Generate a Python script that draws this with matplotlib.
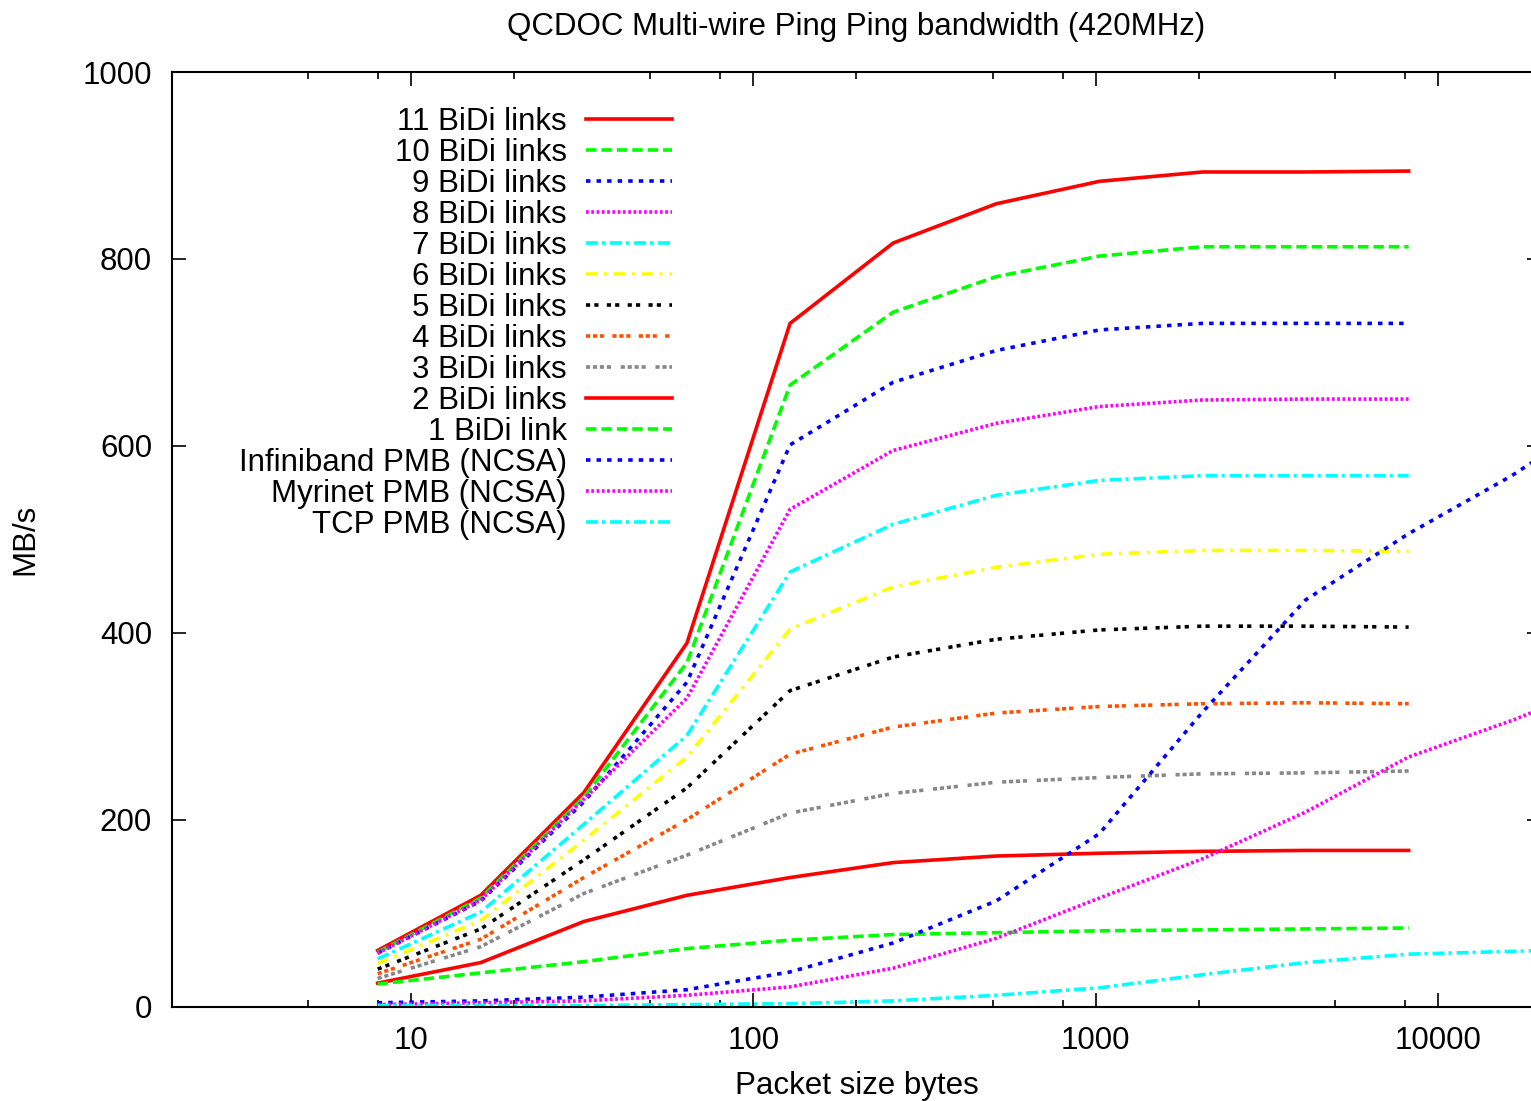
import matplotlib
matplotlib.use("Agg")
import matplotlib.pyplot as plt
from matplotlib.ticker import FixedLocator, NullFormatter

plt.rcParams['font.family'] = ['Liberation Sans', 'DejaVu Sans']
plt.rcParams['font.size'] = 22.5
plt.rcParams['lines.scale_dashes'] = False

# packet sizes (bytes)
sizes = [8, 16, 32, 64, 128, 256, 512, 1024, 2048, 4096, 8192]
sizes_ncsa = [8, 16, 32, 64, 128, 256, 512, 1024, 2048, 4096, 8192, 16384, 32768]

# QCDOC multi-wire bandwidth, MB/s
links11 = [60, 119, 229, 389, 731, 817, 859, 883, 893, 893, 894]
links10 = [58, 116, 224, 368, 665, 743, 781, 803, 813, 813, 813]
links9 = [57, 113, 219, 347, 601, 668, 702, 724, 731, 731, 731]
links8 = [57, 114, 222, 330, 532, 595, 624, 642, 649, 650, 650]
links7 = [51, 101, 195, 290, 465, 516, 547, 563, 568, 568, 568]
links6 = [46, 92, 178, 267, 404, 449, 470, 484, 488, 488, 487]
links5 = [40, 83, 157, 234, 338, 374, 393, 403, 407, 407, 406]
links4 = [35, 72, 138, 200, 270, 299, 314, 321, 324, 325, 324]
links3 = [30, 64, 121, 162, 207, 228, 240, 245, 249, 250, 252]
links2 = [25, 47, 91, 119, 138, 154, 161, 164, 166, 167, 167]
links1 = [24, 36, 48, 62, 71, 77, 79, 81, 82, 83, 84]

# NCSA PMB reference numbers
infiniband = [4, 6, 10, 18, 37, 68, 113, 185, 315, 435, 506, 568, 640]
myrinet = [2, 4, 6, 12, 21, 41, 73, 116, 158, 208, 267, 306, 350]
tcp = [1, 1, 1, 2, 3, 6, 12, 20, 34, 47, 56, 59, 62]

labels = ['11 BiDi links', '10 BiDi links', '9 BiDi links', '8 BiDi links',
          '7 BiDi links', '6 BiDi links', '5 BiDi links', '4 BiDi links',
          '3 BiDi links', '2 BiDi links', '1 BiDi link',
          'Infiniband PMB (NCSA)', 'Myrinet PMB (NCSA)', 'TCP PMB (NCSA)']

# gnuplot-ish line types
red = ('#ff0000', '-')
green = ('#00ff00', (0, (7.5, 3.6)))
blue = ('#0000ff', (0, (3.2, 4.4)))
magenta = ('#ff00ff', (0, (2.0, 1.8)))
cyan = ('#00ffff', (0, (8.6, 2.9, 2.2, 3.6)))
yellow = ('#ffff00', (0, (8, 5, 2, 5)))
black = ('#000000', (0, (3, 3, 3, 6)))
orange = ('#ff5000', (0, (3, 2, 3, 2, 3, 6)))
gray = ('#888888', (0, (3, 2, 3, 2, 3, 2, 3, 7)))

fig = plt.figure(figsize=(15.31, 11.01), dpi=100)
ax = fig.add_axes([171.5 / 1531, 1 - 1006.5 / 1101,
                   (1541.4 - 171.5) / 1531, (1006.5 - 72) / 1101])

series = [
    (sizes, links11, red), (sizes, links10, green), (sizes, links9, blue),
    (sizes, links8, magenta), (sizes, links7, cyan), (sizes, links6, yellow),
    (sizes, links5, black), (sizes, links4, orange), (sizes, links3, gray),
    (sizes, links2, red), (sizes, links1, green),
    (sizes_ncsa, infiniband, blue), (sizes_ncsa, myrinet, magenta),
    (sizes_ncsa, tcp, cyan),
]
for (xs, ys, (c, ls)), lab in zip(series, labels):
    ax.plot(xs, ys, color=c, linestyle=ls, lw=2.6, label=lab)

ax.set_xscale('log')
ax.set_xlim(2, 20000)
ax.set_ylim(0, 1000)
ax.set_yticks([0, 200, 400, 600, 800, 1000])
ax.xaxis.set_major_locator(FixedLocator([10, 100, 1000, 10000]))
ax.set_xticklabels(['10', '100', '1000', '10000'])
minors = [m * 10 ** d for d in range(0, 5) for m in (2, 5, 8)]
ax.xaxis.set_minor_locator(FixedLocator(minors))
ax.xaxis.set_minor_formatter(NullFormatter())

for s in ax.spines.values():
    s.set_linewidth(1.5)
ax.tick_params(which='both', direction='in', top=True, right=True, width=1.2)
ax.tick_params(which='major', length=10)
ax.tick_params(which='minor', length=5)
ax.tick_params(axis='x', pad=14)
ax.tick_params(axis='y', pad=14)

fig.text(856.5 / 1531, 1 - 27 / 1101, 'QCDOC Multi-wire Ping Ping bandwidth (420MHz)',
         ha='center', va='center')
ax.set_xlabel('Packet size bytes', va='center')
ax.xaxis.set_label_coords(0.5, (1006.5 - 1086) / 934.5)
ax.set_ylabel('MB/s', va='center')
ax.yaxis.set_label_coords((25 - 171.5) / 1369.9, 0.5)

leg = ax.legend(loc='upper right', bbox_to_anchor=(672 / 1531, 1 - 107 / 1101),
                bbox_transform=fig.transFigure, markerfirst=False, frameon=False,
                borderpad=0, borderaxespad=0, handlelength=2.75,
                handletextpad=0.62, labelspacing=0.033)

fig.savefig('out.png', dpi=100)
